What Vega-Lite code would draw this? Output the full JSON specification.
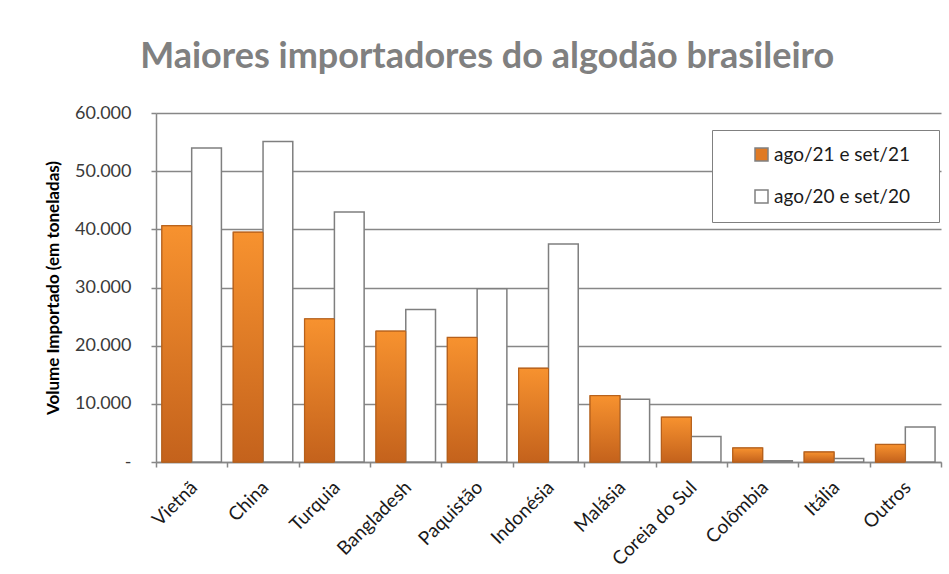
{
  "$schema": "https://vega.github.io/schema/vega-lite/v6.json",
  "width": 785,
  "height": 349,
  "padding": {"left": 44, "top": 39, "right": 8, "bottom": 0},
  "background": "white",
  "title": {
    "text": "Maiores importadores do algodão brasileiro",
    "font": "Lato",
    "fontSize": 36,
    "fontWeight": "bold",
    "color": "#808080",
    "anchor": "middle",
    "frame": "bounds",
    "dx": -6,
    "offset": 28
  },
  "config": {
    "view": {"stroke": null},
    "font": "Lato"
  },
  "data": {
    "values": [
      {"pais": "Vietnã", "serie": "ago/21 e set/21", "valor": 40600},
      {"pais": "Vietnã", "serie": "ago/20 e set/20", "valor": 54000},
      {"pais": "China", "serie": "ago/21 e set/21", "valor": 39500},
      {"pais": "China", "serie": "ago/20 e set/20", "valor": 55100},
      {"pais": "Turquia", "serie": "ago/21 e set/21", "valor": 24600},
      {"pais": "Turquia", "serie": "ago/20 e set/20", "valor": 43000},
      {"pais": "Bangladesh", "serie": "ago/21 e set/21", "valor": 22500},
      {"pais": "Bangladesh", "serie": "ago/20 e set/20", "valor": 26200},
      {"pais": "Paquistão", "serie": "ago/21 e set/21", "valor": 21400},
      {"pais": "Paquistão", "serie": "ago/20 e set/20", "valor": 29800},
      {"pais": "Indonésia", "serie": "ago/21 e set/21", "valor": 16100},
      {"pais": "Indonésia", "serie": "ago/20 e set/20", "valor": 37500},
      {"pais": "Malásia", "serie": "ago/21 e set/21", "valor": 11400},
      {"pais": "Malásia", "serie": "ago/20 e set/20", "valor": 10800},
      {"pais": "Coreia do Sul", "serie": "ago/21 e set/21", "valor": 7700},
      {"pais": "Coreia do Sul", "serie": "ago/20 e set/20", "valor": 4400},
      {"pais": "Colômbia", "serie": "ago/21 e set/21", "valor": 2400},
      {"pais": "Colômbia", "serie": "ago/20 e set/20", "valor": 200},
      {"pais": "Itália", "serie": "ago/21 e set/21", "valor": 1700},
      {"pais": "Itália", "serie": "ago/20 e set/20", "valor": 600},
      {"pais": "Outros", "serie": "ago/21 e set/21", "valor": 3000},
      {"pais": "Outros", "serie": "ago/20 e set/20", "valor": 6000}
    ]
  },
  "encoding": {
    "x": {
      "field": "pais",
      "type": "nominal",
      "sort": null,
      "scale": {"paddingInner": 0, "paddingOuter": 0},
      "axis": {
        "title": null,
        "labelAngle": -45,
        "labelAlign": "right",
        "labelBaseline": "middle",
        "labelFont": "Lato",
        "labelFontSize": 19,
        "labelColor": "#1a1a1a",
        "labelPadding": 17,
        "labelOffset": 2,
        "tickBand": "extent",
        "tickSize": 5,
        "tickColor": "#878787",
        "tickWidth": 1.5,
        "domainColor": "#878787",
        "domainWidth": 1.5,
        "grid": false
      }
    },
    "xOffset": {
      "field": "serie",
      "sort": ["ago/21 e set/21", "ago/20 e set/20"],
      "scale": {"paddingOuter": 0.2, "paddingInner": 0}
    },
    "y": {
      "field": "valor",
      "type": "quantitative",
      "scale": {"domain": [0, 60000]},
      "axis": {
        "title": "Volume Importado (em toneladas)",
        "titleFont": "Lato",
        "titleFontSize": 17,
        "titleFontWeight": "bold",
        "titleColor": "#000000",
        "titlePadding": 12,
        "values": [0, 10000, 20000, 30000, 40000, 50000, 60000],
        "labelExpr": "datum.value === 0 ? '-' : replace(format(datum.value, ','), ',', '.')",
        "labelFont": "Lato",
        "labelFontSize": 18,
        "labelColor": "#3a3a3a",
        "labelPadding": 20,
        "tickSize": 5,
        "tickColor": "#878787",
        "tickWidth": 1.5,
        "domainColor": "#878787",
        "domainWidth": 1.5,
        "gridColor": "#878787",
        "gridWidth": 1.5
      }
    }
  },
  "layer": [
    {
      "mark": {"type": "bar", "strokeWidth": 1.5},
      "encoding": {
        "color": {
          "field": "serie",
          "type": "nominal",
          "sort": ["ago/21 e set/21", "ago/20 e set/20"],
          "scale": {"range": ["#E07A24", "#FFFFFF"]},
          "legend": {
            "title": " ",
            "titleOrient": "right",
            "titlePadding": 14,
            "orient": "none",
            "legendX": 556,
            "legendY": 17,
            "labelFont": "Lato",
            "labelFontSize": 19,
            "labelColor": "#1a1a1a",
            "symbolType": "square",
            "symbolSize": 169,
            "symbolStrokeWidth": 1.5,
            "symbolStrokeColor": "#808080",
            "strokeColor": "#808080",
            "fillColor": "#FFFFFF",
            "padding": 15,
            "rowPadding": 22,
            "symbolOffset": 25,
            "labelOffset": 3
          }
        },
        "stroke": {
          "field": "serie",
          "type": "nominal",
          "sort": ["ago/21 e set/21", "ago/20 e set/20"],
          "scale": {"range": ["#B5601C", "#7F7F7F"]},
          "legend": null
        }
      }
    },
    {
      "transform": [{"filter": "datum.serie === 'ago/21 e set/21'"}],
      "mark": {
        "type": "bar",
        "stroke": "#B5601C",
        "strokeWidth": 1,
        "color": {
          "gradient": "linear",
          "x1": 0, "y1": 0, "x2": 0, "y2": 1,
          "stops": [
            {"offset": 0, "color": "#F7922F"},
            {"offset": 1, "color": "#C4621C"}
          ]
        }
      }
    }
  ]
}
